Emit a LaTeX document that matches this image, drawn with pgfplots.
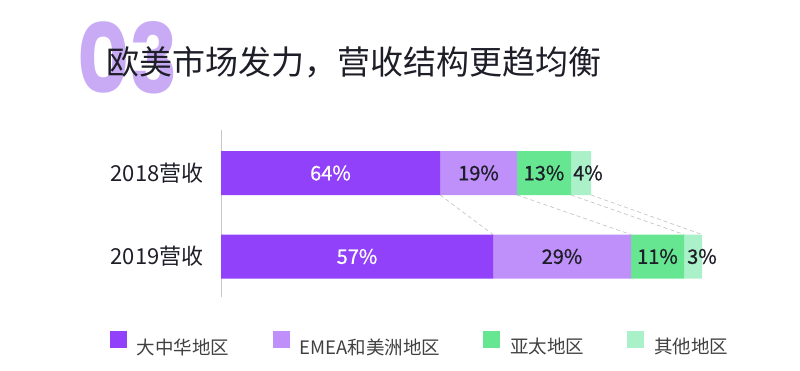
\documentclass[border=0pt]{standalone}
\usepackage{pgfplots}
\pgfplotsset{compat=1.18}
\usepackage{fontspec}
\setmainfont{Noto Sans CJK SC}
\newfontfamily\bigfont{Poppins}
\newfontfamily\pctfont{Noto Sans CJK SC}[FakeBold=0.7]
\definecolor{c1}{HTML}{9141FA}
\definecolor{c2}{HTML}{BF8FFA}
\definecolor{c3}{HTML}{66E690}
\definecolor{c4}{HTML}{AAF0C8}
\definecolor{c03}{HTML}{C9ABF5}
\definecolor{txt}{HTML}{1E1E28}
\pgfplotsset{
  sqlegend/.style={legend image code/.code={\fill[##1] (0pt,-1.5pt) rectangle (17pt,15.5pt);}},
}
\tikzset{
  pl/.style={font=\pctfont\fontsize{20}{22}\selectfont, inner sep=0pt, text=txt},
  cn/.style={black!22, line width=0.7pt, dash pattern=on 4pt off 3pt},
}
\begin{document}
\begin{tikzpicture}
\path[use as bounding box] (0pt,0pt) rectangle (800pt,370pt);
\node[anchor=north west, inner sep=0pt, text=c03] at (77pt,349pt) {\resizebox{101pt}{72pt}{\bigfont\bfseries 03}};
\node[anchor=west, inner sep=0pt, text=txt] at (106pt,308pt) {\fontsize{33}{36}\selectfont 欧美市场发力，营收结构更趋均衡};
\begin{axis}[
  at={(221pt,73pt)}, anchor=south west, scale only axis,
  width=500pt, height=167pt,
  xmin=0, xmax=500, ymin=-0.485, ymax=1.515,
  xbar stacked, bar width=44pt,
  sqlegend,
  axis x line=none, axis y line*=left,
  y axis line style={draw=black!22, line width=0.8pt},
  ytick={0,1}, yticklabels={2019营收,2018营收},
  major tick length=0pt, xtick=\empty,
  yticklabel style={font=\fontsize{22}{24}\selectfont, text=txt, xshift=-14pt},
  clip=false,
  legend columns=4,
  legend style={draw=none, fill=none, inner sep=0pt, outer sep=0pt,
    at={(-0.222,-0.2844)}, anchor=west,
    font=\fontsize{18.5}{20}\selectfont, text=black!75,
    /tikz/every odd column/.append style={column sep=8pt},
    /tikz/every even column/.append style={column sep=41pt}},
]
% segment lengths (bar units) for 2018 (y=1) and 2019 (y=0)
\addplot[fill=c1, draw=none] coordinates {(219,1) (272,0)};
\addplot[fill=c2, draw=none] coordinates {(77,1) (138,0)};
\addplot[fill=c3, draw=none] coordinates {(54,1) (53,0)};
\addplot[fill=c4, draw=none] coordinates {(20,1) (18,0)};
% connectors between segment boundaries
\draw[cn] (axis cs:219,0.7365) -- (axis cs:272,0.2635);
\draw[cn] (axis cs:296,0.7365) -- (axis cs:410,0.2635);
\draw[cn] (axis cs:350,0.7365) -- (axis cs:463,0.2635);
\draw[cn] (axis cs:370,0.7365) -- (axis cs:481,0.2635);
% label anchors (segment centres / starts)
\coordinate (a1) at (axis cs:109.5,1);
\coordinate (a2) at (axis cs:257.5,1);
\coordinate (a3) at (axis cs:323,1);
\coordinate (a4) at (axis cs:352,1);
\coordinate (b1) at (axis cs:136,0);
\coordinate (b2) at (axis cs:341,0);
\coordinate (b3) at (axis cs:436.5,0);
\coordinate (b4) at (axis cs:466,0);
\legend{大中华地区, EMEA和美洲地区, 亚太地区, 其他地区}
\end{axis}
\node[pl, text=white] at (a1) {64\%};
\node[pl] at (a2) {19\%};
\node[pl] at (a3) {13\%};
\node[pl, anchor=west] at (a4) {4\%};
\node[pl, text=white] at (b1) {57\%};
\node[pl] at (b2) {29\%};
\node[pl] at (b3) {11\%};
\node[pl, anchor=west] at (b4) {3\%};
\end{tikzpicture}
\end{document}
